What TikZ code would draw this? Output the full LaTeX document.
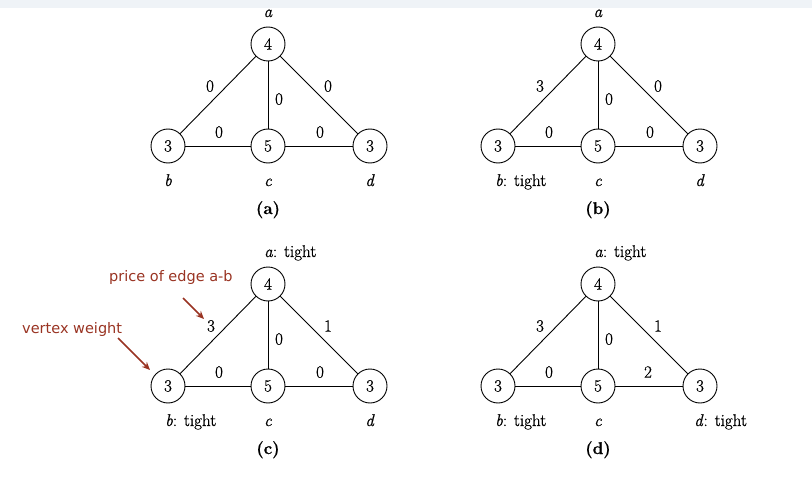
\documentclass[tikz,border=0pt]{standalone}
\usepackage{fontspec}
\setmainfont{Latin Modern Roman}[FakeBold=0.8]
\newfontfamily\annfont{DejaVu Sans}
\usetikzlibrary{arrows.meta}
\definecolor{annred}{HTML}{993322}
\definecolor{band}{HTML}{EFF3F7}
\begin{document}
\begin{tikzpicture}[x=1pt,y=-1pt,
 vtx/.style={circle,draw,line width=0.9pt,minimum size=34pt,inner sep=0pt,font=\fontsize{17}{17}\selectfont},
 edge/.style={draw,line width=0.9pt},
 elab/.style={font=\fontsize{17}{17}\selectfont,inner sep=0pt},
 vlab/.style={font=\fontsize{17}{17}\selectfont,inner sep=0pt,anchor=base},
 vlabw/.style={font=\fontsize{17}{17}\selectfont,inner sep=0pt,anchor=base west},
 caption/.style={font=\fontsize{17}{17}\selectfont\bfseries,inner sep=0pt,anchor=base},
 ann/.style={font=\annfont\fontsize{14.5}{15}\selectfont,text=annred,inner sep=0pt,anchor=west},
 annarrow/.style={draw=annred,line width=1.6pt,-{Stealth[length=8pt,width=7pt]}}]
\useasboundingbox (0,0) rectangle (812,495);
\fill[band] (0,0) rectangle (812,8);

% ---------- panel (a)
\begin{scope}[name prefix=A-]
 \node[vtx] (a) at (268,44) {4};
 \node[vtx] (b) at (168,146) {3};
 \node[vtx] (c) at (268,146) {5};
 \node[vtx] (d) at (370,146) {3};
 \draw[edge] (a) -- (b);
 \draw[edge] (a) -- (c);
 \draw[edge] (a) -- (d);
 \draw[edge] (b) -- (c);
 \draw[edge] (c) -- (d);
 \node[elab] (ab) at (210,86) {0};
 \node[elab] (ac) at (279,99) {0};
 \node[elab] (ad) at (328,86) {0};
 \node[elab] (bc) at (219,132) {0};
 \node[elab] (cd) at (320,132) {0};
 \node[vlab] (la) at (268,17) {\textit{a}};
 \node[vlab] (lb) at (168,186) {\textit{b}};
 \node[vlab] (lc) at (268,186) {\textit{c}};
 \node[vlab] (ld) at (370,186) {\textit{d}};
 \node[caption] (cap) at (268,214) {(a)};
\end{scope}

% ---------- panel (b)
\begin{scope}[shift={(330,0)},name prefix=B-]
 \node[vtx] (a) at (268,44) {4};
 \node[vtx] (b) at (168,146) {3};
 \node[vtx] (c) at (268,146) {5};
 \node[vtx] (d) at (370,146) {3};
 \draw[edge] (a) -- (b);
 \draw[edge] (a) -- (c);
 \draw[edge] (a) -- (d);
 \draw[edge] (b) -- (c);
 \draw[edge] (c) -- (d);
 \node[elab] (ab) at (210,86) {3};
 \node[elab] (ac) at (279,99) {0};
 \node[elab] (ad) at (328,86) {0};
 \node[elab] (bc) at (219,132) {0};
 \node[elab] (cd) at (320,132) {0};
 \node[vlab] (la) at (268,17) {\textit{a}};
 \node[vlabw] (lb) at (165,186) {\textit{b}: tight};
 \node[vlab] (lc) at (268,186) {\textit{c}};
 \node[vlab] (ld) at (370,186) {\textit{d}};
 \node[caption] (cap) at (268,214) {(b)};
\end{scope}

% ---------- panel (c)
\begin{scope}[shift={(0,240)},name prefix=C-]
 \node[vtx] (a) at (268,44) {4};
 \node[vtx] (b) at (168,146) {3};
 \node[vtx] (c) at (268,146) {5};
 \node[vtx] (d) at (370,146) {3};
 \draw[edge] (a) -- (b);
 \draw[edge] (a) -- (c);
 \draw[edge] (a) -- (d);
 \draw[edge] (b) -- (c);
 \draw[edge] (c) -- (d);
 \node[elab] (ab) at (211,86) {3};
 \node[elab] (ac) at (279,99) {0};
 \node[elab] (ad) at (328,86) {1};
 \node[elab] (bc) at (219,132) {0};
 \node[elab] (cd) at (320,132) {0};
 \node[vlabw] (la) at (264,17) {\textit{a}: tight};
 \node[vlabw] (lb) at (165,186) {\textit{b}: tight};
 \node[vlab] (lc) at (268,186) {\textit{c}};
 \node[vlab] (ld) at (370,186) {\textit{d}};
 \node[caption] (cap) at (268,214) {(c)};
\end{scope}

% ---------- panel (d)
\begin{scope}[shift={(330,240)},name prefix=D-]
 \node[vtx] (a) at (268,44) {4};
 \node[vtx] (b) at (168,146) {3};
 \node[vtx] (c) at (268,146) {5};
 \node[vtx] (d) at (370,146) {3};
 \draw[edge] (a) -- (b);
 \draw[edge] (a) -- (c);
 \draw[edge] (a) -- (d);
 \draw[edge] (b) -- (c);
 \draw[edge] (c) -- (d);
 \node[elab] (ab) at (210,86) {3};
 \node[elab] (ac) at (279,99) {0};
 \node[elab] (ad) at (328,86) {1};
 \node[elab] (bc) at (219,132) {0};
 \node[elab] (cd) at (318,132) {2};
 \node[vlabw] (la) at (264,17) {\textit{a}: tight};
 \node[vlabw] (lb) at (165,186) {\textit{b}: tight};
 \node[vlab] (lc) at (268,186) {\textit{c}};
 \node[vlabw] (ld) at (364,186) {\textit{d}: tight};
 \node[caption] (cap) at (268,214) {(d)};
\end{scope}

% ---------- annotations
\node[ann] (price) at (109,277) {price of edge a-b};
\node[ann] (weight) at (22,329) {vertex weight};
\coordinate (pt) at (183,298);
\coordinate (ph) at (204,319);
\coordinate (wt) at (118,338);
\coordinate (wh) at (150,370);
\draw[annarrow] (pt) -- (ph);
\draw[annarrow] (wt) -- (wh);
\end{tikzpicture}
\end{document}
